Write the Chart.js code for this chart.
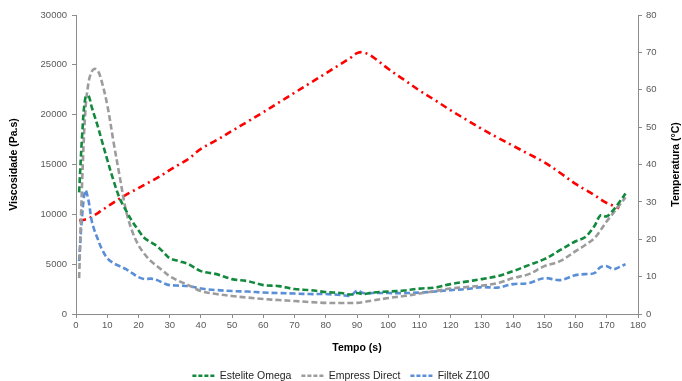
<!DOCTYPE html>
<html>
<head>
<meta charset="utf-8">
<script src="https://cdn.jsdelivr.net/npm/chart.js@4/dist/chart.umd.min.js"></script>
<style>
  html, body { margin: 0; padding: 0; background: #fff; }
  #wrap { width: 682px; height: 381px; position: relative; }
</style>
</head>
<body>
<div id="wrap"><canvas id="myChart" width="682" height="381"></canvas></div>
<script>
// tempo (s)
const tempo = [1, 2, 3, 4, 5, 6, 7, 8, 10, 12, 14, 16, 18, 20, 22, 24, 26, 28, 30, 33, 36, 40, 45, 50, 55, 60, 65, 70, 75, 80, 85, 88, 90, 92, 95, 100, 105, 110, 115, 120, 125, 130, 135, 140, 145, 150, 155, 160, 163, 166, 168, 170, 172, 174, 176];

// viscosidade (Pa.s)
const esteliteOmega = [12200, 18100, 21700, 21900, 20800, 19800, 18800, 17700, 15500, 13400, 11600, 10400, 9300, 8400, 7600, 7200, 6800, 6200, 5600, 5300, 5000, 4300, 4000, 3500, 3300, 2900, 2800, 2500, 2400, 2200, 2100, 1950, 2100, 2000, 2150, 2250, 2350, 2550, 2650, 3000, 3250, 3500, 3800, 4300, 4900, 5500, 6400, 7300, 7700, 8800, 9900, 9800, 10400, 11200, 12100];
const empressDirect = [3600, 13500, 20400, 23200, 24300, 24600, 24400, 23600, 21000, 17300, 13800, 10400, 8300, 6900, 6000, 5300, 4800, 4300, 3800, 3300, 2900, 2300, 2000, 1800, 1650, 1500, 1400, 1300, 1200, 1120, 1100, 1100, 1120, 1200, 1350, 1600, 1800, 2050, 2300, 2550, 2700, 2850, 3100, 3600, 4000, 4800, 5300, 6300, 6900, 7600, 8400, 9300, 10100, 10900, 11700];
const filtekZ100 = [5300, 10000, 12400, 11400, 9400, 8300, 7500, 6700, 5600, 5100, 4800, 4500, 4100, 3700, 3500, 3550, 3400, 3100, 2900, 2850, 2800, 2550, 2400, 2300, 2250, 2150, 2100, 2050, 2000, 2000, 1900, 1850, 2350, 2100, 2100, 2100, 2100, 2150, 2250, 2400, 2500, 2700, 2650, 3000, 3100, 3600, 3400, 3900, 4000, 4100, 4700, 4800, 4500, 4700, 5000];

// temperatura (°C)
const temperatura = [25, 25.1, 25.3, 25.5, 26, 26.5, 27, 27.6, 28.7, 29.8, 30.9, 31.9, 32.8, 33.7, 34.6, 35.5, 36.4, 37.4, 38.5, 40, 41.5, 44.2, 46.5, 49, 51.5, 54, 56.6, 59.2, 61.8, 64.4, 67, 68.6, 69.8, 70, 68.8, 65.6, 62.7, 59.8, 57.2, 54.5, 52, 49.5, 47.2, 45, 42.8, 40.6, 37.8, 34.8, 33.3, 31.8, 30.7, 29.7, 29, 28.3, null];

const viscTicks = [0, 5000, 10000, 15000, 20000, 25000, 30000];
const tempTicks = [0, 10, 20, 30, 40, 50, 60, 70, 80];

const pts = arr => tempo.map((t, i) => ({ x: t, y: arr[i] }));

const FONT = "'Liberation Sans', Arial, sans-serif";
const axisColor = '#8c8c8c';
const tickColor = '#595959';

// right axis title reads bottom-to-top, so draw it by hand
const rightTitle = {
    id: 'rightTitle',
    afterDraw(chart) {
        const { ctx, chartArea } = chart;
        ctx.save();
        ctx.translate(676, (chartArea.top + chartArea.bottom) / 2);
        ctx.rotate(-Math.PI / 2);
        ctx.font = 'bold 10.5px ' + FONT;
        ctx.fillStyle = '#000';
        ctx.textAlign = 'center';
        ctx.textBaseline = 'middle';
        ctx.fillText('Temperatura (°C)', 0, 0);
        ctx.restore();
    }
};

const ctx = document.getElementById('myChart').getContext('2d');
const myChart = new Chart(ctx, {
    type: 'line',
    data: {
        datasets: [{
            label: 'Estelite Omega',
            data: pts(esteliteOmega),
            borderColor: '#13893d',
            borderWidth: 2.6,
            borderDash: [6, 3],
            yAxisID: 'y'
        }, {
            label: 'Empress Direct',
            data: pts(empressDirect),
            borderColor: '#9c9c9c',
            borderWidth: 2.6,
            borderDash: [6, 3],
            yAxisID: 'y'
        }, {
            label: 'Filtek Z100',
            data: pts(filtekZ100),
            borderColor: '#5a8fd8',
            borderWidth: 2.6,
            borderDash: [6, 3],
            yAxisID: 'y'
        }, {
            label: 'Temperatura',
            data: pts(temperatura),
            borderColor: '#ff0000',
            borderWidth: 2.6,
            borderDash: [7, 4, 2, 4],
            yAxisID: 'y1'
        }]
    },
    options: {
        responsive: false,
        animation: false,
        layout: { padding: { top: 15, right: 0, bottom: -10, left: 0 } },
        elements: {
            point: { radius: 0, hoverRadius: 0 },
            line: { tension: 0.35, fill: false, borderCapStyle: 'butt' }
        },
        plugins: {
            tooltip: { enabled: false },
            legend: {
                position: 'bottom',
                labels: {
                    filter: item => item.text !== 'Temperatura',
                    usePointStyle: true,
                    pointStyle: 'line',
                    pointStyleWidth: 22,
                    boxHeight: 10,
                    padding: 10,
                    color: '#262626',
                    font: { family: FONT, size: 10.5 },
                    generateLabels: chart => {
                        const items = Chart.defaults.plugins.legend.labels.generateLabels(chart);
                        items.forEach(it => {
                            it.lineDash = [4, 2];
                            it.lineWidth = 2.6;
                        });
                        return items;
                    }
                }
            }
        },
        scales: {
            x: {
                type: 'linear',
                min: 0,
                max: 180,
                afterFit: s => { s.height = 46.5; },
                ticks: { stepSize: 10, color: tickColor, padding: 2, maxRotation: 0, font: { family: FONT, size: 9.5 } },
                grid: { drawOnChartArea: false, tickLength: 4, color: axisColor },
                border: { color: axisColor, width: 1 },
                title: { display: true, text: 'Tempo (s)', color: '#000', padding: { top: 0, bottom: 6 }, font: { family: FONT, size: 10.5, weight: 'bold' } }
            },
            y: {
                position: 'left',
                min: 0,
                max: 30000,
                afterFit: s => { s.width = 76; },
                afterBuildTicks: s => { s.ticks = viscTicks.map(v => ({ value: v })); },
                ticks: { color: tickColor, padding: 5, callback: v => String(v), font: { family: FONT, size: 9.5 } },
                grid: { drawOnChartArea: false, tickLength: 4, color: axisColor },
                border: { color: axisColor, width: 1 },
                title: { display: true, text: 'Viscosidade (Pa.s)', color: '#000', padding: { top: 8, bottom: 0 }, font: { family: FONT, size: 10.5, weight: 'bold' } }
            },
            y1: {
                position: 'right',
                min: 0,
                max: 80,
                afterFit: s => { s.width = 44; },
                afterBuildTicks: s => { s.ticks = tempTicks.map(v => ({ value: v })); },
                ticks: { color: tickColor, padding: 4, font: { family: FONT, size: 9.5 } },
                grid: { drawOnChartArea: false, tickLength: 4, color: axisColor },
                border: { color: axisColor, width: 1 }
            }
        }
    },
    plugins: [rightTitle]
});
</script>
</body>
</html>
